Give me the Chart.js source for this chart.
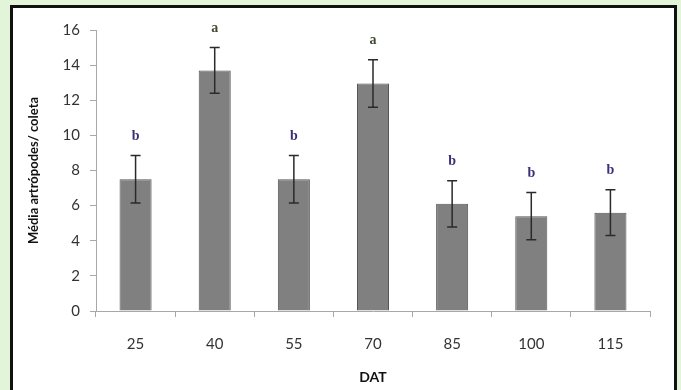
<!DOCTYPE html>
<html>
<head>
<meta charset="utf-8">
<script src="https://cdn.jsdelivr.net/npm/chart.js@4/dist/chart.umd.min.js"></script>
<style>
  html, body { margin: 0; padding: 0; width: 681px; height: 390px; overflow: hidden; background: #e3f5d8; }
  #box { position: absolute; left: 10px; top: 5px; width: 661px; height: 420px; border: 3px solid #111; background: #fff; }
  #wrap { position: absolute; left: 0; top: 0; width: 681px; height: 390px; }
</style>
</head>
<body>
<div id="box"></div>
<div id="wrap"><canvas id="c" width="681" height="390"></canvas></div>
<script>
const categories = ['25', '40', '55', '70', '85', '100', '115'];
const means = [7.5, 13.7, 7.5, 12.95, 6.1, 5.4, 5.6];
const errors = [1.35, 1.3, 1.35, 1.35, 1.32, 1.35, 1.3];
const letters = ['b', 'a', 'b', 'a', 'b', 'b', 'b'];
const yTicks = [0, 2, 4, 6, 8, 10, 12, 14, 16];

const letterColors = { a: '#3f4a2e', b: '#3a2f78' };

const errorPlugin = {
  id: 'errorBars',
  afterDatasetsDraw(chart) {
    const ctx = chart.ctx;
    const meta = chart.getDatasetMeta(0);
    const ys = chart.scales.y;
    ctx.save();
    meta.data.forEach((bar, i) => {
      const x = bar.x;
      const yTop = ys.getPixelForValue(means[i] + errors[i]);
      const yBot = ys.getPixelForValue(means[i] - errors[i]);
      ctx.strokeStyle = '#2a2a2a';
      ctx.lineWidth = 1.5;
      ctx.beginPath();
      ctx.moveTo(x, yTop); ctx.lineTo(x, yBot);
      ctx.moveTo(x - 5, yTop); ctx.lineTo(x + 5, yTop);
      ctx.moveTo(x - 5, yBot); ctx.lineTo(x + 5, yBot);
      ctx.stroke();
      ctx.fillStyle = letterColors[letters[i]];
      ctx.font = 'bold 14px "Liberation Serif"';
      ctx.textAlign = 'center';
      ctx.textBaseline = 'middle';
      ctx.fillText(letters[i], x, yTop - 19);
    });
    ctx.restore();
  }
};

new Chart(document.getElementById('c'), {
  type: 'bar',
  data: {
    labels: categories,
    datasets: [{
      data: means,
      backgroundColor: '#808080',
      borderColor: '#555555',
      borderWidth: 1,
      categoryPercentage: 1,
      barPercentage: 0.405
    }]
  },
  options: {
    responsive: false,
    animation: false,
    events: [],
    layout: { padding: { left: 20, right: 31, top: 30, bottom: 0 } },
    plugins: { legend: { display: false }, tooltip: { enabled: false } },
    scales: {
      x: {
        afterFit(s) { s.height = 79; },
        grid: { display: true, drawOnChartArea: false, offset: true, tickLength: 6, color: '#a8a8a8' },
        border: { color: '#a8a8a8', width: 1 },
        ticks: { padding: 18, color: '#333', font: { family: 'Lato', size: 15 } },
        title: { display: true, text: 'DAT', color: '#111', font: { family: 'Lato', size: 14, weight: 'bold' }, padding: { top: 0, bottom: 4 } }
      },
      y: {
        min: 0, max: 16,
        afterFit(s) { s.width = 76; },
        afterBuildTicks(s) { s.ticks = yTicks.map(v => ({ value: v })); },
        grid: { display: true, drawOnChartArea: false, tickLength: 6, color: '#a8a8a8' },
        border: { color: '#a8a8a8', width: 1 },
        ticks: { padding: 10, color: '#333', font: { family: 'Lato', size: 15 } },
        title: { display: true, text: 'Média artrópodes/ coleta', color: '#111', font: { family: 'Lato', size: 13, weight: 'bold' }, padding: { top: 6, bottom: 0 } }
      }
    }
  },
  plugins: [errorPlugin]
});
</script>
</body>
</html>
